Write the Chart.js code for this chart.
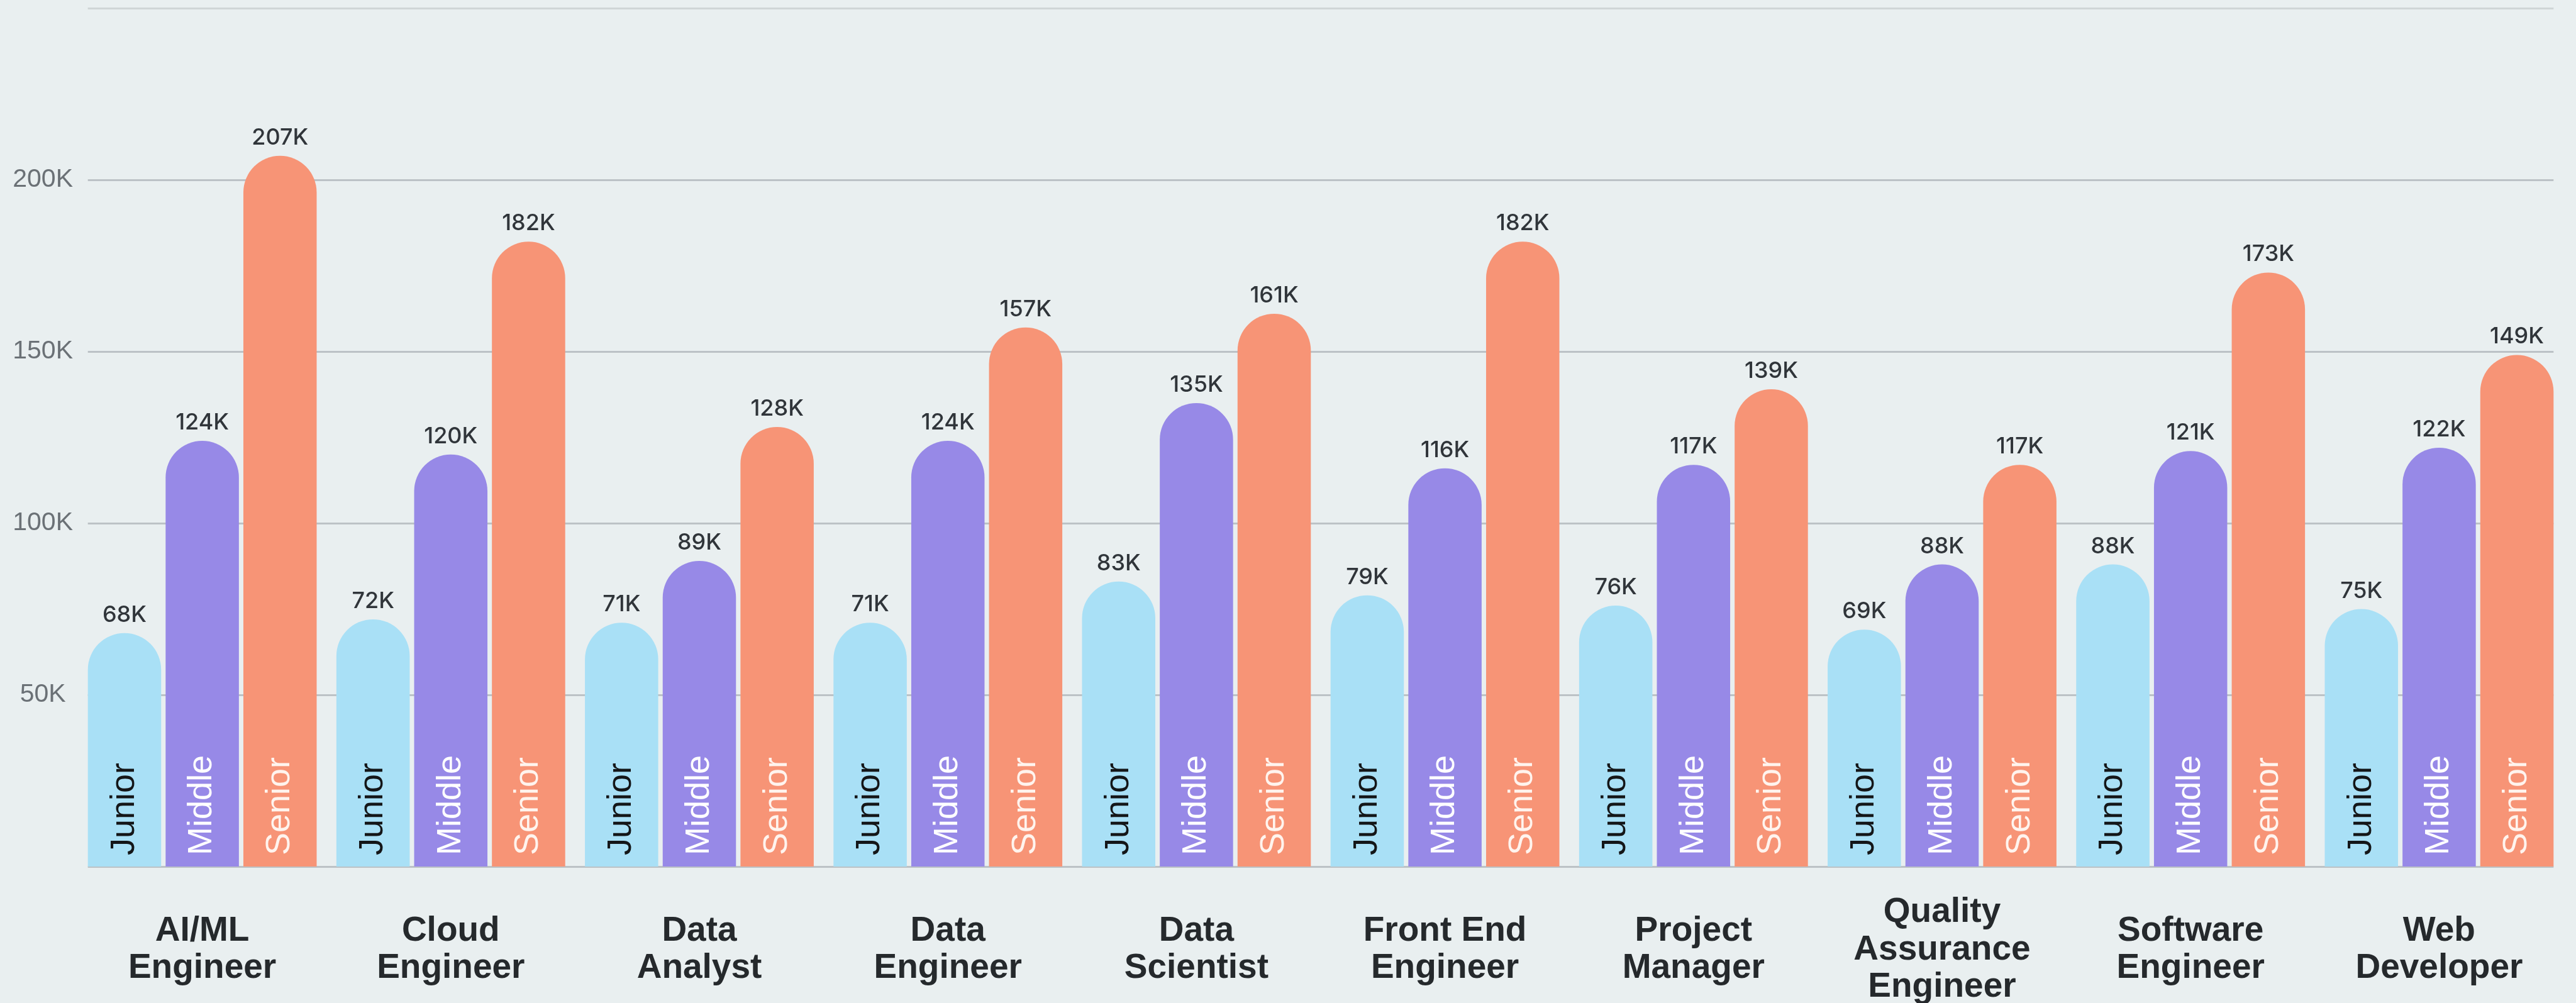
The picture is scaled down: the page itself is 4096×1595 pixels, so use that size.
<!DOCTYPE html>
<html>
<head>
<meta charset="utf-8">
<script src="https://cdn.jsdelivr.net/npm/chart.js@4.4.1/dist/chart.umd.min.js"></script>
<style>
  html, body { margin: 0; padding: 0; background: #e9eff0; overflow: hidden; }
  #wrap { width: 4096px; height: 1595px; }
  canvas { display: block; }
</style>
</head>
<body>
<div id="wrap"><canvas id="c" width="4096" height="1595"></canvas></div>
<script>
// ---- data (values in thousands) ----
const categories = [
  ["AI/ML", "Engineer"],
  ["Cloud", "Engineer"],
  ["Data", "Analyst"],
  ["Data", "Engineer"],
  ["Data", "Scientist"],
  ["Front End", "Engineer"],
  ["Project", "Manager"],
  ["Quality", "Assurance", "Engineer"],
  ["Software", "Engineer"],
  ["Web", "Developer"]
];
const seriesNames = ["Junior", "Middle", "Senior"];
const juniorValues = [68, 72, 71, 71, 83, 79, 76, 69, 88, 75];
const middleValues = [124, 120, 89, 124, 135, 116, 117, 88, 121, 122];
const seniorValues = [207, 182, 128, 157, 161, 182, 139, 117, 173, 149];
const yTickValues = [50, 100, 150, 200];

const seriesColors = ["#a9e0f6", "#9789e7", "#f79476"];
const innerTextColors = ["#141618", "#ffffff", "#fff4ee"];

// horizontal grid lines, spanning from the first bar to the last bar
const gridLines = {
  id: 'gridLines',
  beforeDatasetsDraw(chart) {
    const ctx = chart.ctx;
    const yScale = chart.scales.y;
    const first = chart.getDatasetMeta(0).data[0].getProps(['x', 'width'], true);
    const lastMeta = chart.getDatasetMeta(chart.data.datasets.length - 1);
    const last = lastMeta.data[lastMeta.data.length - 1].getProps(['x', 'width'], true);
    const x0 = first.x - first.width / 2;
    const x1 = last.x + last.width / 2;
    ctx.save();
    ctx.lineWidth = 3;
    yScale.ticks.forEach(t => {
      const y = Math.round(yScale.getPixelForValue(t.value)) + 0.5;
      ctx.strokeStyle = t.value === yScale.max ? '#cfd5d6' : '#bcc2c6';
      ctx.beginPath();
      ctx.moveTo(x0, y);
      ctx.lineTo(x1, y);
      ctx.stroke();
    });
    ctx.restore();
  }
};

const barLabels = {
  id: 'barLabels',
  afterDatasetsDraw(chart) {
    const ctx = chart.ctx;
    chart.data.datasets.forEach((ds, di) => {
      const meta = chart.getDatasetMeta(di);
      meta.data.forEach((bar, i) => {
        const p = bar.getProps(['x', 'y', 'base'], true);
        // value label above the bar
        ctx.save();
        ctx.font = '500 36px Inter';
        ctx.fillStyle = '#30353a';
        ctx.textAlign = 'center';
        ctx.textBaseline = 'alphabetic';
        ctx.fillText(ds.data[i] + 'K', p.x, p.y - 18);
        ctx.restore();
        // rotated series label inside the bar
        ctx.save();
        ctx.translate(p.x, p.base - 18);
        ctx.rotate(-Math.PI / 2);
        ctx.font = '54px "Liberation Sans"';
        ctx.fillStyle = innerTextColors[di];
        ctx.textAlign = 'left';
        ctx.textBaseline = 'middle';
        ctx.fillText(ds.label, 0, 0);
        ctx.restore();
      });
    });
  }
};

const valueLists = [juniorValues, middleValues, seniorValues];
new Chart(document.getElementById('c'), {
  type: 'bar',
  data: {
    labels: categories,
    datasets: seriesNames.map((name, k) => ({
      label: name,
      data: valueLists[k],
      backgroundColor: seriesColors[k],
      borderWidth: 0,
      borderRadius: 200,
      borderSkipped: 'start',
      barPercentage: 0.9424,
      categoryPercentage: 0.9386
    }))
  },
  options: {
    responsive: false,
    devicePixelRatio: 1,
    animation: false,
    layout: { padding: { top: 13, right: 20, bottom: 0, left: 0 } },
    plugins: { legend: { display: false }, tooltip: { enabled: false } },
    scales: {
      x: {
        grid: { display: false },
        border: { display: false },
        ticks: {
          autoSkip: false,
          maxRotation: 0,
          minRotation: 0,
          crossAlign: 'center',
          padding: 65,
          color: '#25292c',
          font: { family: '"Liberation Sans"', weight: 'bold', size: 55, lineHeight: 1.08 }
        },
        afterFit(scale) { scale.height = 217; }
      },
      y: {
        min: 0,
        max: 250,
        border: { display: false },
        grid: { display: false },
        ticks: {
          stepSize: 50,
          padding: 0,
          crossAlign: 'center',
          color: '#6b7176',
          font: { family: '"Liberation Sans"', size: 41, lineHeight: 0.6 },
          callback: (v) => yTickValues.includes(v) ? v + 'K' : ''
        },
        afterFit(scale) { scale.width = 124; }
      }
    }
  },
  plugins: [gridLines, barLabels]
});
</script>
</body>
</html>
